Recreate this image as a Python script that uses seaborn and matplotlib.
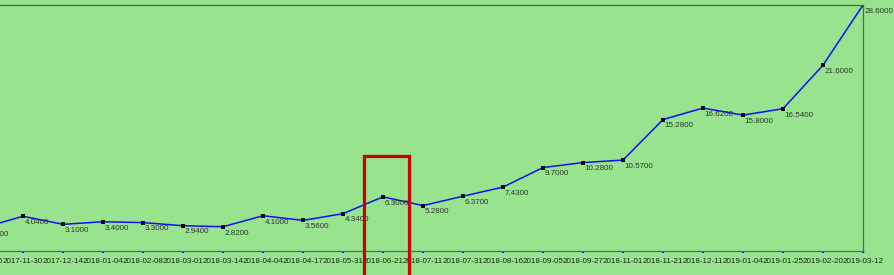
import matplotlib
matplotlib.use("Agg")
import matplotlib.pyplot as plt
from matplotlib.patches import Rectangle
import matplotlib.transforms as mtransforms
import seaborn as sns
import pandas as pd

dates = ["2017-11-16", "2017-11-30", "2017-12-14", "2018-01-04", "2018-02-08",
         "2018-03-01", "2018-03-14", "2018-04-04", "2018-04-17", "2018-05-31",
         "2018-06-21", "2018-07-11", "2018-07-31", "2018-08-16", "2018-09-05",
         "2018-09-27", "2018-11-01", "2018-11-21", "2018-12-11", "2019-01-04",
         "2019-01-25", "2019-02-20", "2019-03-12"]
values = [2.70, 4.04, 3.10, 3.40, 3.30, 2.94, 2.82, 4.10, 3.56, 4.34,
          6.30, 5.28, 6.37, 7.43, 9.70, 10.28, 10.57, 15.28, 16.62, 15.80,
          16.54, 21.60, 28.60]
highlight = "2018-06-21"

plt.rcParams['font.family'] = ['Liberation Sans', 'DejaVu Sans']

df = pd.DataFrame({"date": dates, "value": values})

BG = "#98E38E"
fig = plt.figure(figsize=(8.95, 2.75), dpi=100)
fig.patch.set_facecolor(BG)
ax = fig.add_axes([0.0, 24 / 275, 863 / 895, 246 / 275])
ax.set_facecolor(BG)

sns.lineplot(data=df, x="date", y="value", sort=False, ax=ax,
             color="#1010F0", linewidth=1.1, marker="s", markersize=2.8,
             markerfacecolor="black", markeredgecolor="black", markeredgewidth=0)

n = len(dates)
ax.set_xlabel("")
ax.set_ylabel("")
ax.set_yticks([])
ax.set_xticks(range(n))
ax.set_xticklabels(dates)
ax.set_xlim(0.425, n - 1)
ax.set_ylim(0, max(values))
ax.tick_params(axis="x", direction="out", length=1.6, width=1.6, color="#1010F0",
               pad=3.5, labelsize=5.8, labelcolor="#222222")

# first category's tick label lies mostly beyond the left edge
trans = mtransforms.blended_transform_factory(ax.transData, ax.transAxes)
off = mtransforms.ScaledTranslation(0, -(1.6 + 3.5) / 72, fig.dpi_scale_trans)
ax.text(0, 0, dates[0], transform=trans + off, ha="center", va="top",
        fontsize=5.8, color="#222222", clip_on=False)

ax.spines["left"].set_visible(False)
for s in ["top", "right", "bottom"]:
    ax.spines[s].set_color("#556655")
    ax.spines[s].set_linewidth(0.9)
ax.spines["bottom"].set_color("#5a6478")

for i, v in enumerate(values):
    ax.annotate(f"{v:.4f}", (i, v), xytext=(1.0, -2.0), textcoords="offset points",
                ha="left", va="top", fontsize=5.8, color="#333333",
                annotation_clip=False)

hi = dates.index(highlight)
rect = Rectangle((hi - 0.47, -4), 1.125, 4 + 11.1, fill=False,
                 edgecolor="#CC0000", linewidth=2.3, clip_on=False, zorder=5)
ax.add_patch(rect)

fig.savefig("out.png", dpi=100, facecolor=BG)
